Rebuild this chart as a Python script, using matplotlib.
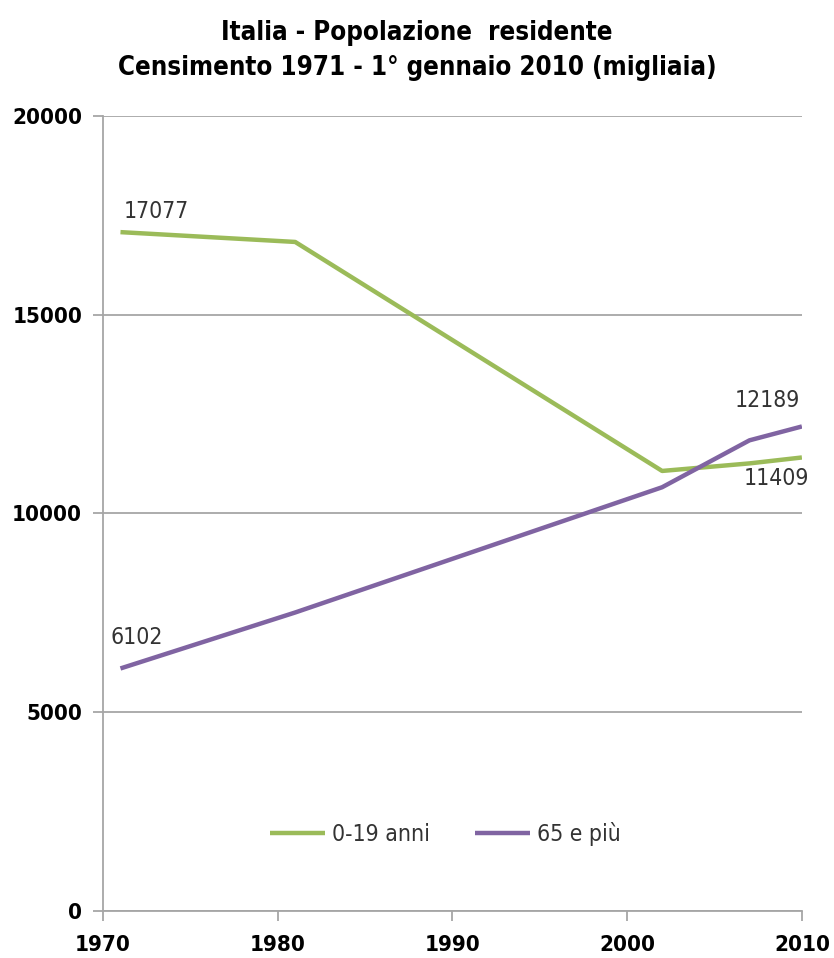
import numpy as np
from matplotlib import pyplot as plt

years_young = [1971, 1981, 2002, 2007, 2010]
young = [17077, 16830, 11070, 11260, 11409]
years_old = [1971, 1981, 2002, 2007, 2010]
old = [6102, 7510, 10660, 11840, 12189]
labels = ["0-19 anni", "65 e più"]
y_ticks = [0, 5000, 10000, 15000, 20000]
x_ticks = [1970, 1980, 1990, 2000, 2010]

fig = plt.figure(figsize=(8.34, 9.58), dpi=100)
ax = fig.add_axes([0.1235, 0.049, 0.838, 0.830])

green = "#9BBB59"
purple = "#8064A2"
ax.plot(years_young, young, color=green, lw=3.2, label=labels[0], solid_capstyle="butt")
ax.plot(years_old, old, color=purple, lw=3.2, label=labels[1], solid_capstyle="butt")

ax.set_xlim(1970, 2010)
ax.set_ylim(0, 20000)
ax.set_xticks(x_ticks)
ax.set_yticks(y_ticks)
ax.yaxis.grid(True, color="#a6a6a6", lw=1.3)
ax.set_axisbelow(True)
for s in ["top", "right"]:
    ax.spines[s].set_visible(False)
for s in ["left", "bottom"]:
    ax.spines[s].set_color("#a6a6a6")
    ax.spines[s].set_linewidth(1.3)
ax.tick_params(axis="both", color="#a6a6a6", width=1.3, length=7, direction="out")
ax.tick_params(axis="x", pad=10)
ax.tick_params(axis="y", pad=8)
for lab in ax.get_xticklabels() + ax.get_yticklabels():
    lab.set_fontsize(16)
    lab.set_fontweight("bold")
    lab.set_fontstretch("condensed")

# data labels
lab_kw = dict(fontsize=16.5, color="#333333", fontstretch="condensed", va="center")
ax.annotate(str(young[0]), (years_young[0], young[0]), xytext=(2, 15), textcoords="offset points", ha="left", **lab_kw)
ax.annotate(str(old[0]), (years_old[0], old[0]), xytext=(-7, 22), textcoords="offset points", ha="left", **lab_kw)
ax.annotate(str(old[-1]), (years_old[-1], old[-1]), xytext=(-1, 19), textcoords="offset points", ha="right", **lab_kw)
ax.annotate(str(young[-1]), (years_young[-1], young[-1]), xytext=(5, -15), textcoords="offset points", ha="right", **lab_kw)

leg = ax.legend(loc="center", bbox_to_anchor=(0.49, 0.097), ncol=2, frameon=False,
                fontsize=16.5, handlelength=2.4, columnspacing=2.0, handletextpad=0.3)
for t in leg.get_texts():
    t.set_fontstretch("condensed")
    t.set_color("#333333")

fig.text(0.5, 0.966, "Italia - Popolazione  residente", ha="center", va="center",
         fontsize=18.5, fontweight="bold", fontstretch="condensed")
fig.text(0.5, 0.929, "Censimento 1971 - 1° gennaio 2010 (migliaia)", ha="center", va="center",
         fontsize=18.5, fontweight="bold", fontstretch="condensed")

fig.savefig("out.png", dpi=100)
